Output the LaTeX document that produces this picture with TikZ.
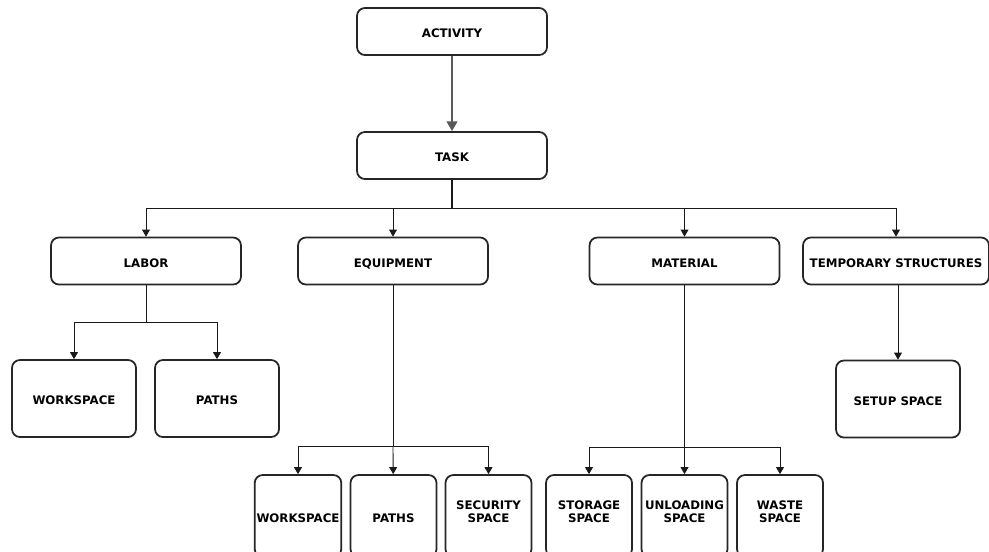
\documentclass[tikz,border=0pt]{standalone}
\usepackage{fontspec}
\setmainfont{DejaVu Sans}
\usetikzlibrary{arrows.meta}

\tikzset{
  box/.style={draw=black!85, line width=1pt, rounded corners=4.5pt, fill=white,
    align=center, inner sep=1pt, text height=1.6ex, text depth=0.25ex,
    font=\bfseries\fontsize{6.7}{7.6}\selectfont},
  topbox/.style={box, minimum width=3.8cm, minimum height=0.94cm},
  leafbox/.style={box, minimum width=2.48cm, minimum height=1.54cm},
  lowbox/.style={box, minimum width=1.72cm, minimum height=1.64cm},
  conn/.style={draw=black!90, line width=0.5pt, -{Triangle[length=4pt, width=4.5pt]}},
  line/.style={draw=black!90, line width=0.5pt},
}

\begin{document}
\begin{tikzpicture}[x=0.02cm, y=-0.02cm]
      \clip (0,0) rectangle (989,551);
      \fill[white] (0,0) rectangle (989,551);

      % top
      \node[topbox] (activity) at (452,31.5) {ACTIVITY};
      \node[topbox] (task) at (452,155.5) {TASK};
      \draw[draw=black!65, line width=1.2pt, -{Triangle[length=5.5pt, width=6pt]}] (activity) -- (task);

      % resources
      \node[topbox] (labor) at (146,261) {LABOR};
      \node[topbox] (equipment) at (393,261) {EQUIPMENT};
      \node[topbox] (material) at (684.5,261) {MATERIAL};
      \node[topbox, minimum width=3.72cm] (temporary) at (896,261) {TEMPORARY STRUCTURES};

      \coordinate (tsplit) at (452,208);
      \draw[line, line width=0.8pt] (task) -- (tsplit);
      \draw[conn] (tsplit) -| (labor);
      \draw[conn] (tsplit) -| (equipment);
      \draw[conn] (tsplit) -| (material);
      \draw[conn] (tsplit) -| (temporary);

      % labor
      \node[leafbox] (laborwork) at (74,398.5) {WORKSPACE};
      \node[leafbox] (laborpaths) at (217,398.5) {PATHS};
      \coordinate (lsplit) at (146,322);
      \draw[line] (labor) -- (lsplit);
      \draw[conn] (lsplit) -| (laborwork);
      \draw[conn] (lsplit) -| (laborpaths);

      % equipment
      \node[lowbox] (equipwork) at (298,516) {WORKSPACE};
      \node[lowbox] (equippaths) at (393.5,516) {PATHS};
      \node[lowbox] (equipsec) at (488.5,516) {SECURITY\\SPACE};
      \coordinate (esplit) at (393,446);
      \draw[line] (equipment) -- (esplit);
      \draw[conn] (esplit) -| (equipwork);
      \draw[conn] (esplit) -- (equippaths);
      \draw[conn] (esplit) -| (equipsec);

      % material
      \node[lowbox] (matstore) at (589,516) {STORAGE\\SPACE};
      \node[lowbox] (matunload) at (684.5,516) {UNLOADING\\SPACE};
      \node[lowbox] (matwaste) at (780,516) {WASTE\\SPACE};
      \coordinate (msplit) at (684.5,447);
      \draw[line] (material) -- (msplit);
      \draw[conn] (msplit) -| (matstore);
      \draw[conn] (msplit) -- (matunload);
      \draw[conn] (msplit) -| (matwaste);

      % temporary structures
      \node[leafbox] (setup) at (898,399) {SETUP SPACE};
      \draw[conn] (temporary.south -| setup.north) -- (setup);

    \end{tikzpicture}
\end{document}
